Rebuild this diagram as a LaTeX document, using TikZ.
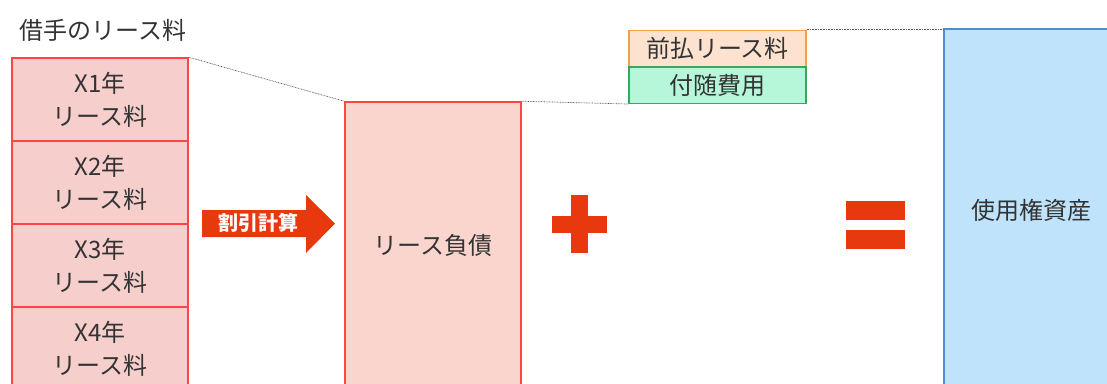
\documentclass[tikz,border=0pt]{standalone}
\usepackage{fontspec}
\newfontfamily\cjk{Noto Sans CJK JP}
\definecolor{pinkfill}{HTML}{F6CFCD}
\definecolor{redline}{HTML}{FF4545}
\definecolor{leasefill}{HTML}{FAD5CD}
\definecolor{prefill}{HTML}{FDE3CF}
\definecolor{preline}{HTML}{F7A043}
\definecolor{grnfill}{HTML}{B5F7D8}
\definecolor{grnline}{HTML}{35A860}
\definecolor{bluefill}{HTML}{BFE3FA}
\definecolor{blueline}{HTML}{4A8FD4}
\definecolor{signred}{HTML}{E8380D}
\definecolor{txt}{HTML}{333333}
\begin{document}
\begin{tikzpicture}[x=1pt,y=-1pt,
  every node/.style={font=\cjk\fontsize{24}{33}\selectfont, text=txt, inner sep=0pt, align=center},
  lbox/.style={draw=redline, fill=pinkfill, line width=1.5pt, minimum width=176pt, minimum height=83pt},
  bigbox/.style={line width=1.5pt, minimum width=176pt, minimum height=318pt},
  smallbox/.style={line width=1.5pt, minimum width=177pt, minimum height=36.5pt},
  dotline/.style={draw=black!65, line width=0.7pt, dash pattern=on 0.8pt off 0.8pt},
  sign/.style={fill=signred}]
\useasboundingbox (0,0) rectangle (1107,383);
\begin{scope}
\clip (0,0) rectangle (1107,383);
\node (title) at (103,30) {借手のリース料};
\node[lbox] (y1) at (100,99.5) {X1年\\リース料};
\node[lbox] (y2) at (100,182.5) {X2年\\リース料};
\node[lbox] (y3) at (100,265.5) {X3年\\リース料};
\node[lbox] (y4) at (100,348.5) {X4年\\リース料};
\node[bigbox, draw=redline, fill=leasefill] (lease) at (433,261) {};
\node (leasetxt) at (433,245) {リース負債};
\node[smallbox, draw=preline, fill=prefill] (pre) at (717.5,48.5) {前払リース料};
\node[smallbox, draw=grnline, fill=grnfill] (fuz) at (717.5,85) {付随費用};
\node[line width=1.5pt, draw=blueline, fill=bluefill, minimum width=200pt, minimum height=400pt, anchor=north west] (rou) at (943,28) {};
\node (routxt) at (1031,210) {使用権資産};
\draw[dotline] (y1.north east) -- (lease.north west);
\draw[dotline] (lease.north east) -- (fuz.south west);
\draw[dotline] (pre.north east) -- (pre.north east -| rou.west);
% arrow
\fill[signred] (202,210) -- (306,210) -- (306,195) -- (335,223.5) -- (306,253) -- (306,237) -- (202,237) -- cycle;
\node[font=\cjk\bfseries\fontsize{20}{20}\selectfont, text=white!94!pink] (calc) at (258,222.5) {割引計算};
% plus
\fill[sign] (571,195) rectangle (588,253);
\fill[sign] (552,216) rectangle (607,233);
% equals
\fill[sign] (846,201) rectangle (905,220);
\fill[sign] (846,230) rectangle (905,249);
\end{scope}
\end{tikzpicture}
\end{document}
